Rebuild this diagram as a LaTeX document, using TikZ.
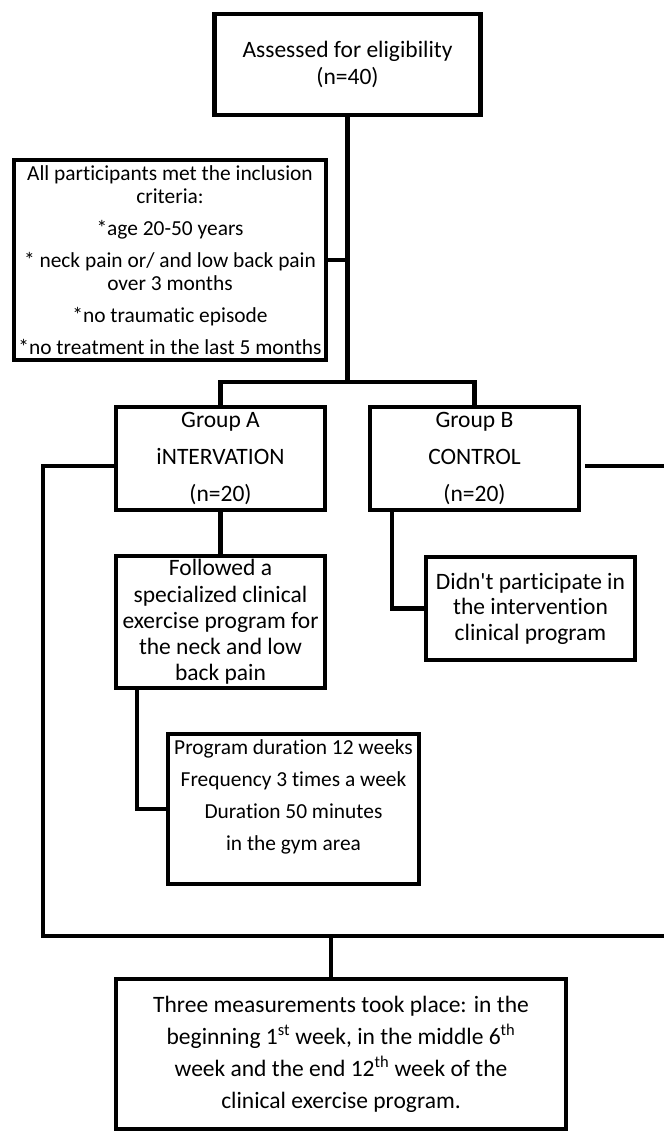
\documentclass[tikz,border=0pt]{standalone}
\usepackage{fontspec}
\setmainfont{Carlito}[Ligatures={NoCommon}]
\usetikzlibrary{calc}
\tikzset{
  box/.style={draw, line width=4.5pt, inner sep=0pt, align=center},
  conn/.style={line width=4.5pt},
  big/.style={font=\fontsize{23.5}{#1}\selectfont},
  small/.style={font=\fontsize{21.4}{#1}\selectfont}
}
\begin{document}
\begin{tikzpicture}[x=1pt,y=-1pt]
\fill[white] (0,0) rectangle (664,1133);
\useasboundingbox (0,0) rectangle (664,1133);

% boxes
\node[box, big=27.5, minimum width=266pt, minimum height=101pt] (top) at (347.5,64.5)
  {Assessed for eligibility\\(n=40)};
\node[box, small=23, minimum width=312pt, minimum height=200pt] (crit) at (170,260)
  {All participants met the inclusion\\criteria:\\[9pt]*age 20-50 years\\[9pt]* neck pain or/ and low back pain\\over 3 months\\[9pt]*no traumatic episode\\[9pt]*no treatment in the last 5 months};
\node[box, big=37, minimum width=209pt, minimum height=103pt] (gA) at (220.5,458.5)
  {Group A\\iNTERVATION\\(n=20)};
\node[box, big=37, minimum width=209pt, minimum height=103pt] (gB) at (474.5,458.5)
  {Group B\\CONTROL\\(n=20)};
\node[box, big=26.2, minimum width=209pt, minimum height=132pt] (fol) at (220.5,622)
  {Followed a\\specialized clinical\\exercise program for\\the neck and low\\back pain};
\node[box, big=25.5, minimum width=209pt, minimum height=103pt] (didnt) at (530.5,608.5)
  {Didn\textquotesingle t participate in\\the intervention\\clinical program};
\node[box, minimum width=251pt, minimum height=150pt] (prog) at (293.5,809) {};
\node[small=32, align=center, inner sep=0pt] (progtxt) at (293.5,797)
  {Program duration 12 weeks\\Frequency 3 times a week\\Duration 50 minutes\\in the gym area};
\node[box, big=32, minimum width=450pt, minimum height=150pt] (bot) at (341,1054)
  {Three measurements took place: in the\\beginning 1\textsuperscript{st} week, in the middle 6\textsuperscript{th}\\week and the end 12\textsuperscript{th} week of the\\clinical exercise program.};

% coordinates
\coordinate (split) at (347.5,382);
\coordinate (ll) at (43,936);
\coordinate (lr) at (664,936);
\coordinate (ru) at (664,466);
\coordinate (mg) at (331,936);

% connectors
\draw[conn] (top.south) -- (split);
\draw[conn] (crit.east) -- (crit.east -| split);
\draw[conn] (gA.north) |- (split) -| (gB.north);
\draw[conn] ([yshift=-7.5pt]gA.west) -| (ll) -- (lr);
\draw[conn] ([xshift=4pt,yshift=-7.5pt]gB.east) -- (ru);
\draw[conn] (mg) -- (mg |- bot.north);
\draw[conn] (gA.south) -- (fol.north);
\draw[conn] ([xshift=24pt]gB.south west) |- (didnt.west);
\draw[conn] ([xshift=23pt]fol.south west) |- (prog.west);
\end{tikzpicture}
\end{document}
